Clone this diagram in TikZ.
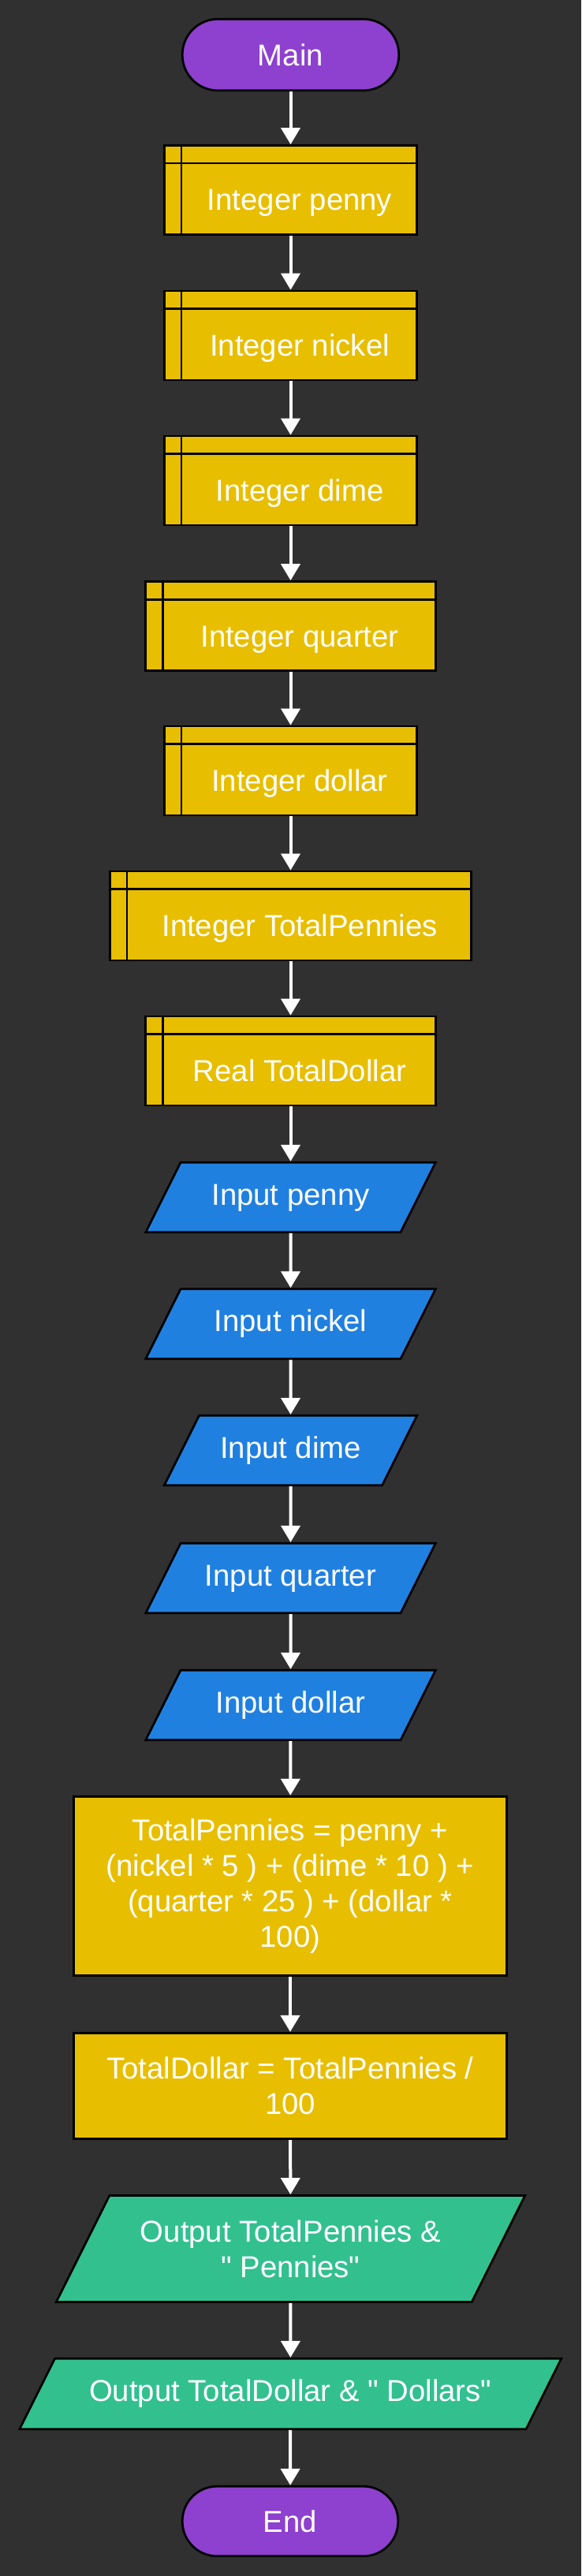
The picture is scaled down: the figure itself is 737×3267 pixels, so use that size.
\documentclass[tikz,border=0pt]{standalone}
\usepackage{fontspec}
\setmainfont{Liberation Sans}
\usetikzlibrary{shapes.geometric,arrows.meta}
\definecolor{bgdark}{RGB}{48,48,48}
\definecolor{termpurple}{RGB}{142,64,206}
\definecolor{declyellow}{RGB}{232,190,0}
\definecolor{ioblue}{RGB}{32,128,224}
\definecolor{outgreen}{RGB}{50,192,143}
\tikzset{
  base/.style={draw=black, line width=2.7pt, text=white, font=\fontsize{38.3}{45}\selectfont, inner sep=0pt},
  terminal/.style={base, shape=rectangle, fill=termpurple, rounded corners=45pt, minimum width=274.5pt, minimum height=90.5pt},
  declare/.style={base, shape=rectangle, fill=declyellow, minimum height=113pt, text height=60pt, text depth=8pt, execute at begin node={\hspace*{23pt}}},
  process/.style={base, shape=rectangle, fill=declyellow, align=center, minimum width=549.5pt},
  io/.style={base, trapezium, trapezium left angle=63.43, trapezium right angle=116.57, trapezium stretches body, align=center},
  input/.style={io, fill=ioblue, text height=27pt, text depth=8pt, inner ysep=26.75pt},
  output/.style={io, fill=outgreen},
  flow/.style={draw=white, line width=4pt, -{Triangle[length=21pt,width=24pt,fill=white]}}
}
\begin{document}
\begin{tikzpicture}[x=1pt,y=-1pt]
        \fill[bgdark] (0,0) rectangle (737,3267);
        \node[terminal] (main) at (368.5,69.5) {Main};
        \node[declare, minimum width=320.5pt] (dpenny) at (368.5,241) {Integer penny};
        \node[declare, minimum width=320.5pt] (dnickel) at (368.5,425.5) {Integer nickel};
        \node[declare, minimum width=320.5pt] (ddime) at (368.5,609.5) {Integer dime};
        \node[declare, minimum width=367.5pt] (dquarter) at (368.5,794) {Integer quarter};
        \node[declare, minimum width=320.5pt] (ddollar) at (368.5,977.5) {Integer dollar};
        \node[declare, minimum width=458.5pt] (dtotpen) at (368.5,1161.5) {Integer TotalPennies};
        \node[declare, minimum width=367.5pt] (dtotdol) at (368.5,1345.5) {Real TotalDollar};
        \node[input, minimum width=367.5pt] (inpenny) at (368.5,1518.5) {Input penny};
        \node[input, minimum width=367.5pt] (innickel) at (368.5,1679) {Input nickel};
        \node[input, minimum width=320.5pt] (indime) at (368.5,1839.5) {Input dime};
        \node[input, minimum width=367.5pt] (inquarter) at (368.5,2001.5) {Input quarter};
        \node[input, minimum width=367.5pt] (indollar) at (368.5,2162.5) {Input dollar};
        \node[process, minimum height=227.5pt] (calcpen) at (368,2392) {TotalPennies = penny +\\(nickel * 5 ) + (dime * 10 ) +\\(quarter * 25 ) + (dollar *\\100)};
        \node[process, minimum height=134.5pt] (calcdol) at (368,2645.5) {TotalDollar = TotalPennies /\\100};
        \node[output, minimum width=594.5pt, inner ysep=31pt] (outpen) at (368.5,2852) {Output TotalPennies \&\\\textquotedbl{} Pennies\textquotedbl};
        \node[output, minimum width=687pt, text height=27pt, text depth=8pt, inner ysep=27.25pt] (outdol) at (368.25,3036) {Output TotalDollar \& \textquotedbl{} Dollars\textquotedbl};
        \node[terminal, minimum width=273.5pt, minimum height=88.5pt, rounded corners=44pt] (end) at (368,3197.5) {End};

        % stripes of the declare boxes
        \foreach \n in {dpenny,dnickel,ddime,dquarter,ddollar,dtotpen,dtotdol}{
          \draw[line width=2.7pt] ([xshift=23pt]\n.north west) -- ([xshift=23pt]\n.south west);
          \draw[line width=2.7pt] ([yshift=-24pt]\n.north west) -- ([yshift=-24pt]\n.north east);
        }

        \path[flow]
        (main) edge (dpenny)
        (dpenny) edge (dnickel)
        (dnickel) edge (ddime)
        (ddime) edge (dquarter)
        (dquarter) edge (ddollar)
        (ddollar) edge (dtotpen)
        (dtotpen) edge (dtotdol)
        (dtotdol) edge (inpenny)
        (inpenny) edge (innickel)
        (innickel) edge (indime)
        (indime) edge (inquarter)
        (inquarter) edge (indollar)
        (indollar) edge (calcpen)
        (calcpen) edge (calcdol)
        (calcdol) edge (outpen)
        (outpen) edge (outdol)
        (outdol) edge (end)
        ;
\end{tikzpicture}
\end{document}
